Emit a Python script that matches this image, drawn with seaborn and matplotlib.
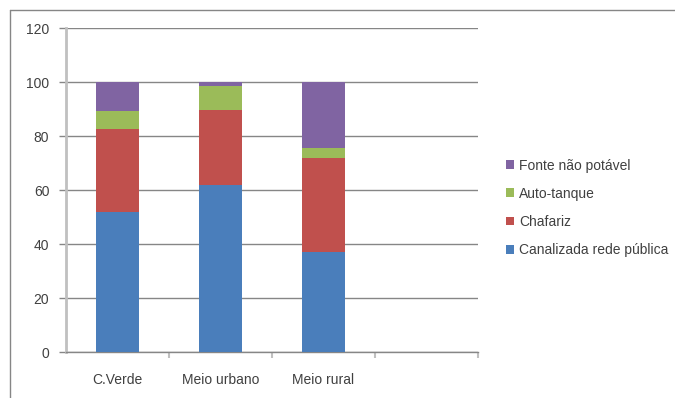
import matplotlib
matplotlib.use("Agg")
import matplotlib.pyplot as plt
from matplotlib.lines import Line2D
from matplotlib.patches import Patch
import numpy as np
import pandas as pd
import seaborn as sns

# Access to water supply by source (%)
categories = ["C.Verde", "Meio urbano", "Meio rural"]
canalizada = [52.0, 61.9, 37.2]
chafariz = [30.6, 27.9, 34.8]
auto_tanque = [6.7, 8.8, 3.7]
fonte_nao_potavel = [10.7, 1.4, 24.3]

series_names = ["Canalizada rede pública", "Chafariz", "Auto-tanque", "Fonte não potável"]
series_values = [canalizada, chafariz, auto_tanque, fonte_nao_potavel]
series_colors = ["#4A7EBB", "#C0504D", "#9BBB59", "#8064A2"]
y_ticks = [0, 20, 40, 60, 80, 100, 120]

sns.set_theme(style="white")
plt.rcParams["font.family"] = ["Liberation Sans", "DejaVu Sans"]

fig = plt.figure(figsize=(6.75, 3.98), dpi=100)
ax = fig.add_axes([66 / 675, 1 - 352 / 398, (478 - 66) / 675, (352 - 28) / 398])

# Stacked bars: draw cumulative totals from the top layer down
cum = np.cumsum(np.array(series_values), axis=0)
order = categories + [" "]
for name, color, totals in reversed(list(zip(series_names, series_colors, cum))):
    df = pd.DataFrame({"cat": categories, "val": totals})
    sns.barplot(data=df, x="cat", y="val", order=order, color=color,
                saturation=1, width=0.42, errorbar=None, ax=ax, zorder=3,
                linewidth=0, edgecolor="none")

ax.set_xlim(-0.5, 3.5)
ax.set_ylim(0, 120)
ax.set_yticks(y_ticks)
ax.set_xlabel("")
ax.set_ylabel("")

grid_col = "#868686"
ax.yaxis.grid(True, color=grid_col, linewidth=1.0, zorder=0)
ax.set_axisbelow(True)
for s in ["top", "right"]:
    ax.spines[s].set_visible(False)
ax.spines["left"].set_color("#C0C0C0")
ax.spines["left"].set_linewidth(2.0)
ax.spines["bottom"].set_color(grid_col)
ax.spines["bottom"].set_linewidth(1.0)

text_col = "#404040"
fs = 10
ax.tick_params(axis="y", which="major", direction="out", length=5, width=1,
               color=grid_col, labelsize=fs, labelcolor=text_col, pad=7, left=True)
ax.set_xticks(range(len(order)))
ax.set_xticklabels(order)
ax.tick_params(axis="x", which="major", length=0, labelsize=fs, labelcolor=text_col, pad=15)
ax.set_xticks([0.5, 1.5, 2.5, 3.5], minor=True)
ax.tick_params(axis="x", which="minor", direction="out", length=4, width=1.5,
               color="#C0C0C0", bottom=True)

handles = [Patch(facecolor=c, edgecolor="none") for c in series_colors]
leg = fig.legend(handles[::-1], series_names[::-1], loc="upper left",
                 bbox_to_anchor=(500 / 675, 1 - 153 / 398), frameon=False,
                 fontsize=fs, labelspacing=1.02, handlelength=0.6, handleheight=0.6,
                 handletextpad=0.35, borderaxespad=0)
for t in leg.get_texts():
    t.set_color(text_col)

# Chart area border
fig.add_artist(Line2D([10 / 675, 10 / 675], [0, 1 - 10 / 398], transform=fig.transFigure,
                      color="#868686", linewidth=1.0))
fig.add_artist(Line2D([10 / 675, 1], [1 - 10 / 398, 1 - 10 / 398], transform=fig.transFigure,
                      color="#868686", linewidth=1.0))

fig.savefig("out.png", dpi=100, facecolor="white")
